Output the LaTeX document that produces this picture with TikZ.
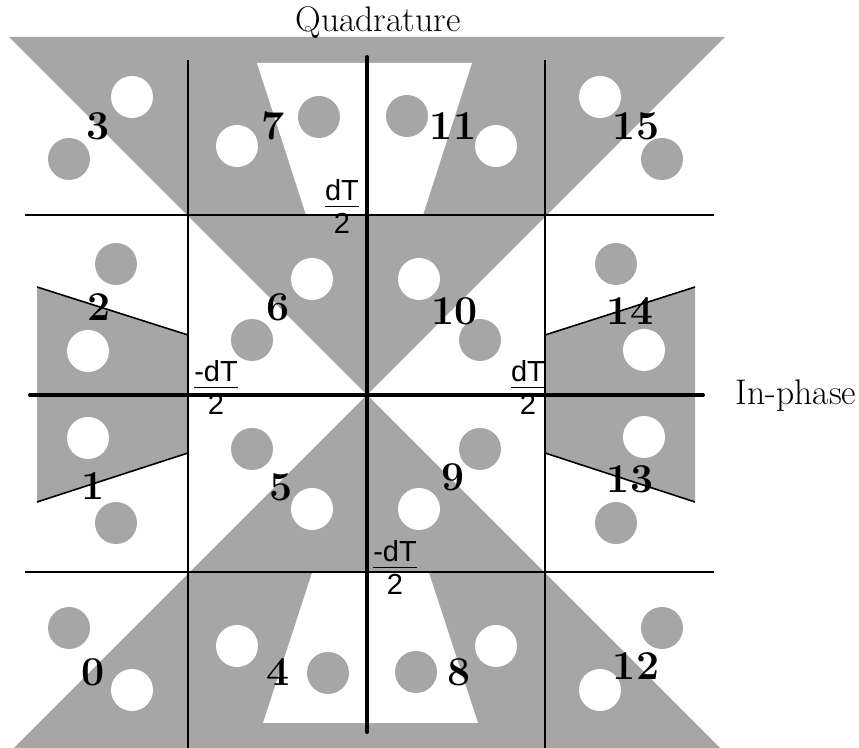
\documentclass[tikz,border=0pt]{standalone}
\usepackage{amsmath}
\usepackage{fontspec}
\newfontfamily\arialfont{Liberation Sans}
\usetikzlibrary{positioning}
\definecolor{cgray}{HTML}{A6A6A6}
\tikzset{
  zone/.style={fill=cgray},
  gap/.style={fill=white},
  gridline/.style={line width=0.8pt},
  axisline/.style={line width=2pt,line cap=round},
  edgeline/.style={line width=0.8pt},
  sym/.style={font=\fontsize{20.5}{20.5}\selectfont\bfseries,inner sep=0pt},
  frac/.style={font=\arialfont\fontsize{14.5}{16}\selectfont,inner sep=0pt,anchor=base},
  axlbl/.style={font=\fontsize{17.8}{19}\selectfont,inner sep=0pt,anchor=base},
}
\newcommand{\thr}[1]{$\dfrac{\raisebox{-3pt}{\text{#1}}}{\text{2}}$}

\begin{document}
\begin{tikzpicture}[x=0.5pt,y=-0.5pt]
  \useasboundingbox (0,0) rectangle (859,748);
  % decision regions
  \fill[zone] (9,37) -- (725,37) -- (367,395) -- cycle;
  \fill[zone] (367,395) -- (720,748) -- (14,748) -- cycle;
  \fill[gap] (257,63) -- (472,63) -- (423,215) -- (306,215) -- cycle;
  \fill[gap] (312,573) -- (429,573) -- (478,723) -- (263,723) -- cycle;
  \fill[zone] (37,287) -- (188,335) -- (188,453) -- (37,502) -- cycle;
  \fill[zone] (545,335) -- (695,287) -- (695,502) -- (545,453) -- cycle;
  \draw[edgeline] (37,287) -- (188,335) (37,502) -- (188,453);
  \draw[edgeline] (695,287) -- (545,335) (695,502) -- (545,453);
  % constellation points
  \foreach \x/\y in {69/159,319/117,407/116,662/159,116/264,252/340,480/340,616/264,
      116/523,252/449,480/449,616/523,69/628,328/673,416/672,662/628}
    \fill[cgray] (\x,\y) circle[radius=10.5pt];
  \foreach \x/\y in {132/97,237/146,496/146,600/97,88/351,312/279,419/279,644/350,
      88/438,312/509,419/509,644/437,132/690,237/646,496/646,600/690}
    \fill[white] (\x,\y) circle[radius=10.5pt];
  % grid and axes
  \draw[gridline] (25,215) -- (714,215) (25,572) -- (714,572);
  \draw[gridline] (188,60) -- (188,748) (545,60) -- (545,748);
  \draw[axisline] (30,395) -- (703,395);
  \draw[axisline] (367,57) -- (367,732);
  % symbol numbers
  \foreach \n/\x/\y in {0/93/672,1/93/486,2/99/307,3/98/126,4/278/672,5/281/487,
      6/278/307,7/273/126,8/459/672,9/453/477,10/455/311,11/453/126,
      12/636/666,13/630/479,14/630/311,15/636/126}
    \node[sym] (s\n) at (\x,\y) {\n};
  % thresholds
  \node[frac] (ftop) at (342,214) {\thr{dT}};
  \node[frac] (fleft) at (216,395) {\thr{-dT}};
  \node[frac] (fright) at (528,395) {\thr{dT}};
  \node[frac] (fbot) at (395,575) {\thr{-dT}};
  % axis names
  \node[axlbl] (quad) at (378,32) {Quadrature};
  \node[axlbl] (inph) at (796,405) {In-phase};
\end{tikzpicture}
\end{document}
